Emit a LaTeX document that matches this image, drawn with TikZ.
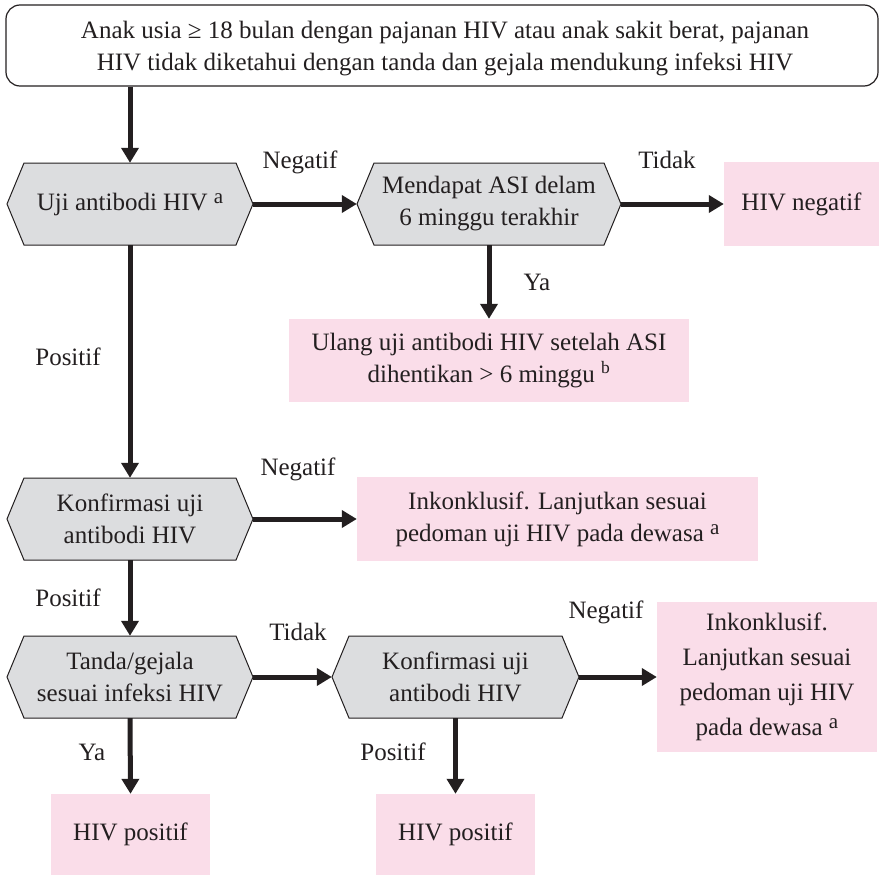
\documentclass[tikz,border=0pt]{standalone}
\usepackage{fontspec}
\setmainfont{Liberation Serif}
\usetikzlibrary{arrows.meta}

\definecolor{ink}{HTML}{231F20}
\definecolor{hexgray}{HTML}{DCDDDF}
\definecolor{rose}{HTML}{FADDE9}

% footnote marks, set a little larger than a plain superscript
\newcommand\fnmark[1]{\raisebox{7pt}{\fontsize{21}{21}\selectfont #1}}

\tikzset{
  txt/.style={font=\fontsize{25}{32}\selectfont, text=ink, align=center, inner sep=0pt},
  hexshape/.style={fill=hexgray, draw=ink, line width=1pt, line join=miter},
  outcome/.style={txt, fill=rose},
  startbox/.style={txt, draw=ink, line width=1.2pt, rounded corners=14pt},
  arr/.style={draw=ink, line width=5pt, -{Triangle[length=15pt,width=17pt]}},
  lbl/.style={txt}
}

% decision hexagon: name, centre x, centre y, width, height, text
\newcommand\flowhex[6]{%
  \path[hexshape] (#2-#4/2,#3) -- (#2-#4/2+17,#3+#5/2) -- (#2+#4/2-17,#3+#5/2)
    -- (#2+#4/2,#3) -- (#2+#4/2-17,#3-#5/2) -- (#2-#4/2+17,#3-#5/2) -- cycle;
  \node[txt, minimum width=#4, minimum height=#5] (#1) at (#2,#3) {#6};}

\begin{document}
\begin{tikzpicture}[x=1pt,y=1pt]
\useasboundingbox (0,0) rectangle (881,-875);

% start
\node[startbox, minimum width=872, minimum height=81] (top) at (442,-45.5) {};
\node[txt] (toptext) at (445,-49)
  {Anak usia ≥ 18 bulan dengan pajanan HIV atau anak sakit berat, pajanan\\
   HIV tidak diketahui dengan tanda dan gejala mendukung infeksi HIV};

% decisions
\flowhex{h1}{130}{-204}{246}{82}{Uji antibodi HIV \fnmark{a}}
\flowhex{h2}{489}{-204}{264}{82}{Mendapat ASI delam\\6 minggu terakhir}
\flowhex{h3}{130}{-519}{246}{82}{Konfirmasi uji\\antibodi HIV}
\flowhex{h4}{130}{-677}{246}{82}{Tanda/gejala\\sesuai infeksi HIV}
\flowhex{h5}{455.5}{-677}{247}{82}{Konfirmasi uji\\antibodi HIV}

% outcomes
\node[outcome, minimum width=155, minimum height=84] (neg) at (801.5,-204) {HIV negatif};
\node[outcome, minimum width=400, minimum height=83] (ulang) at (489,-360.5)
  {Ulang uji antibodi HIV setelah ASI\\dihentikan > 6 minggu \textsuperscript{b}};
\node[outcome, minimum width=401, minimum height=84] (inkon1) at (557.5,-519)
  {Inkonklusif. Lanjutkan sesuai\\pedoman uji HIV pada dewasa \fnmark{a}};
\node[outcome, font=\fontsize{25}{35}\selectfont, minimum width=220, minimum height=150] (inkon2) at (767,-677)
  {Inkonklusif.\\Lanjutkan sesuai\\pedoman uji HIV\\pada dewasa \fnmark{a}};
\node[outcome, minimum width=159, minimum height=81] (pos1) at (130.5,-834.5) {HIV positif};
\node[outcome, minimum width=159, minimum height=81] (pos2) at (455.5,-834.5) {HIV positif};

% connectors
\draw[arr] (top.south -| h1.north) -- (h1.north);
\draw[arr] (h1.east) -- (h2.west);
\draw[arr] (h2.east) -- (neg.west);
\draw[arr] (h2.south) -- (ulang.north);
\draw[arr] (h1.south) -- (h3.north);
\draw[arr] (h3.east) -- (inkon1.west);
\draw[arr] (h3.south) -- (h4.north);
\draw[arr] (h4.east) -- (h5.west);
\draw[arr] (h5.east) -- (h5.east -| inkon2.west);
\draw[arr] (h4.south) -- (pos1.north);
\draw[arr] (h5.south) -- (pos2.north);

% branch labels
\node[lbl] (l1) at (300,-162) {Negatif};
\node[lbl] (l2) at (667,-160) {Tidak};
\node[lbl] (l3) at (537,-282) {Ya};
\node[lbl] (l4) at (68,-357) {Positif};
\node[lbl] (l5) at (298,-469) {Negatif};
\node[lbl] (l6) at (68,-598) {Positif};
\node[lbl] (l7) at (298,-632) {Tidak};
\node[lbl] (l8) at (606,-612) {Negatif};
\node[lbl] (l9) at (92,-752) {Ya};
\node[lbl] (l10) at (393,-752) {Positif};
\end{tikzpicture}
\end{document}
